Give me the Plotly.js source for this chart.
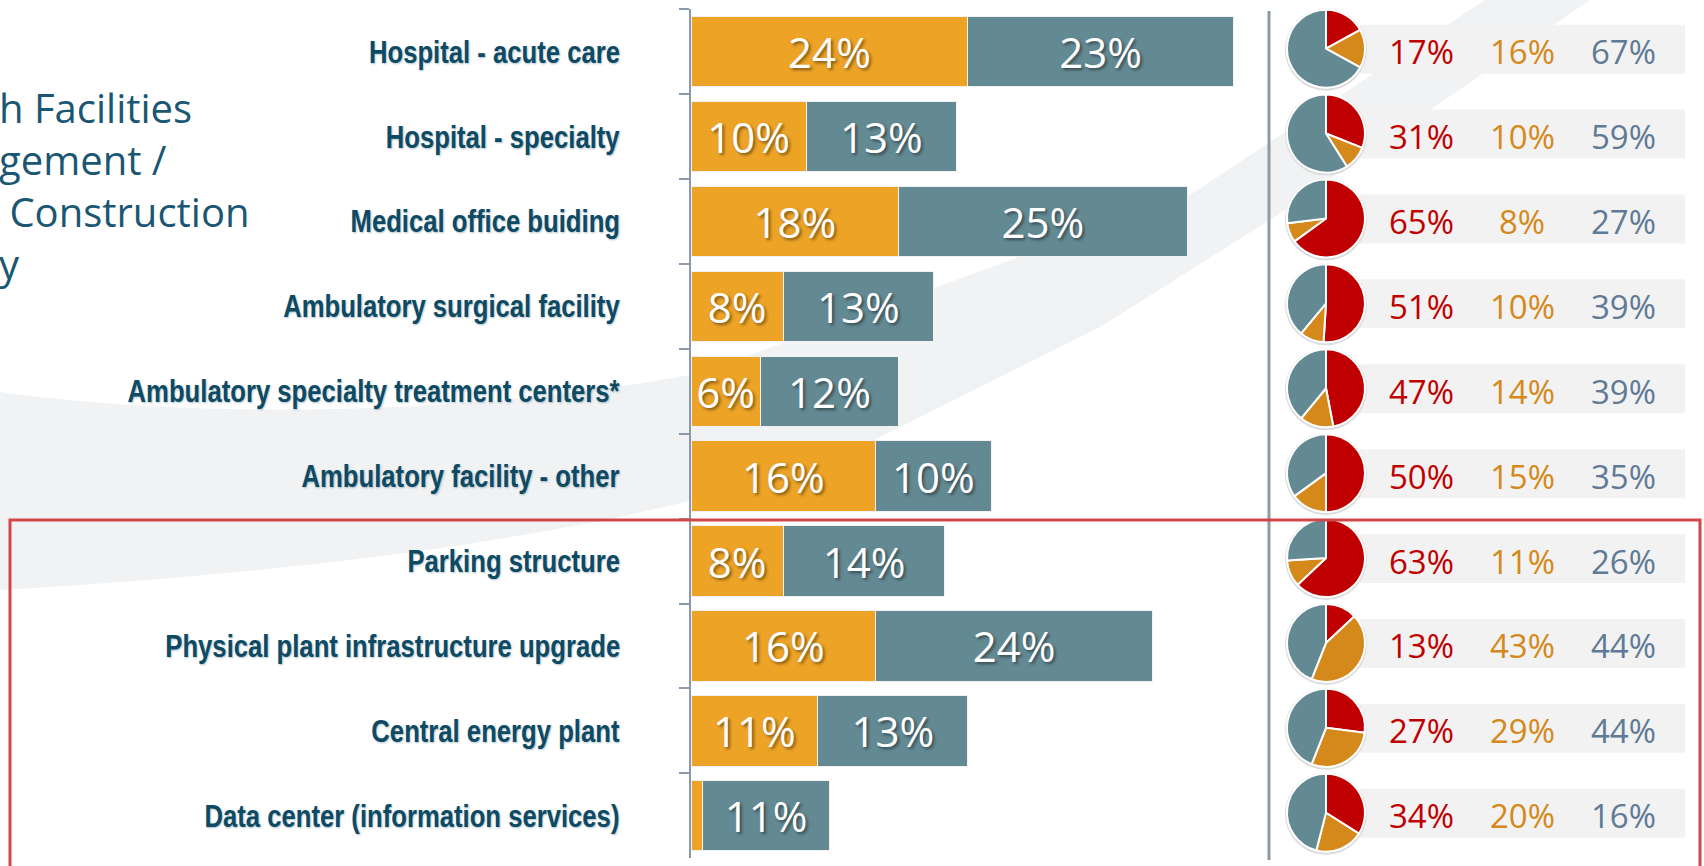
<!DOCTYPE html>
<html><head><meta charset="utf-8">
<script src="https://cdn.plot.ly/plotly-3.0.1.min.js"></script>
<style>html,body{margin:0;padding:0;background:#fff;overflow:hidden}#chart{width:1704px;height:866px}</style>
</head><body><div id="chart"></div>
<script>
// ---- data ----
const categories = ["Hospital - acute care","Hospital - specialty","Medical office buiding","Ambulatory surgical facility","Ambulatory specialty treatment centers*","Ambulatory facility - other","Parking structure","Physical plant infrastructure upgrade","Central energy plant","Data center (information services)"];
const barOrange = [24,10,18,8,6,16,8,16,11,1];
const barTeal   = [23,13,25,13,12,10,14,24,13,11];
const pieRed    = [17,31,65,51,47,50,63,13,27,34];
const pieOrange = [16,10,8,10,14,15,11,43,29,20];
const pieTeal   = [67,59,27,39,39,35,26,44,44,46];
const tealLabels = ["67%","59%","27%","39%","39%","35%","26%","44%","44%","16%"];
const titleLines = ["h Facilities","gement /","\u00a0Construction","y"];

// ---- geometry helpers ----
const W = 1704, H = 866;
const px = v => v / W;
const py = v => 1 - v / H;
const rowTop = 9.2, rowH = 84.9;
const rowCenter = i => rowTop + rowH * (i + 0.5);

const C = {
  barOrange:'#eca326', barTeal:'#638993',
  pieRed:'#c00000', pieOrange:'#d4891a', pieTeal:'#638993',
  txtRed:'#c00000', txtOrange:'#d4891a', txtTeal:'#607a96',
  label:'#0e4a63', axis:'#8c99a6'
};

const barFont = {family:"Open Sans, Noto Sans, sans-serif", size:42, color:'#ffffff', shadow:'2px 2px 3px rgba(0,0,0,0.45)'};

const traces = [
  {type:'bar', orientation:'h', y:categories, x:barOrange, name:'a',
   marker:{color:C.barOrange, line:{color:'#f2f2f2', width:1}},
   text: barOrange.map(v => v >= 3 ? v + '%' : ''), textposition:'inside', insidetextanchor:'middle',
   constraintext:'none', textfont:barFont, hoverinfo:'skip', showlegend:false},
  {type:'bar', orientation:'h', y:categories, x:barTeal, name:'b',
   marker:{color:C.barTeal, line:{color:'#f2f2f2', width:1}},
   text: barTeal.map(v => v + '%'), textposition:'inside', insidetextanchor:'middle',
   constraintext:'none', textfont:barFont, hoverinfo:'skip', showlegend:false}
];

const pieCx = 1326, pieR = 39, pieShift = -3;
categories.forEach((c, i) => {
  const cy = rowCenter(i) + pieShift;
  traces.push({
    type:'pie', values:[pieRed[i], pieOrange[i], pieTeal[i]],
    marker:{colors:[C.pieRed, C.pieOrange, C.pieTeal], line:{color:'#ffffff', width:2}},
    sort:false, direction:'clockwise', rotation:0, textinfo:'none', hoverinfo:'skip', showlegend:false,
    domain:{x:[px(pieCx - pieR), px(pieCx + pieR)], y:[py(cy + pieR), py(cy - pieR)]}
  });
});

// ---- shapes ----
const P = (x, y) => `${px(x).toFixed(5)},${py(y).toFixed(5)}`;
const swoosh = `M${P(0,392)} C${P(200,420)} ${P(480,415)} ${P(700,373)} L${P(1190,195)} L${P(1485,0)} L${P(1590,0)} L${P(1270,220)} L${P(1100,327)} L${P(900,427)} C${P(780,490)} ${P(520,560)} ${P(0,590)} Z`;
const shapes = [
  {type:'path', path:swoosh, xref:'paper', yref:'paper', fillcolor:'#f1f2f4', line:{width:0}, layer:'below'}
];
categories.forEach((c, i) => {
  const cy = rowCenter(i);
  shapes.push({type:'rect', xref:'paper', yref:'paper', x0:px(1360), x1:px(1685), y0:py(cy + 22), y1:py(cy - 27),
    fillcolor:'#f2f2f2', line:{width:0}, layer:'below'});
  const pc = cy + pieShift;
  shapes.push({type:'circle', xref:'paper', yref:'paper', x0:px(pieCx - pieR - 2), x1:px(pieCx + pieR + 2),
    y0:py(pc + pieR + 3), y1:py(pc - pieR - 1), fillcolor:'#dcdcdc', line:{width:0}, layer:'below'});
});
shapes.push({type:'line', xref:'paper', yref:'paper', x0:px(1269), x1:px(1269), y0:py(11), y1:py(860),
  line:{color:C.axis, width:3}, layer:'below'});
shapes.push({type:'rect', xref:'paper', yref:'paper', x0:px(10), x1:px(1700), y0:py(520), y1:py(870),
  line:{color:'#d0474a', width:3}, fillcolor:'rgba(0,0,0,0)', layer:'above'});

// ---- annotations ----
const annotations = [];
const labelIdx = [];
annotations.push({xref:'paper', yref:'paper', x:px(-3), y:py(186), xanchor:'left', yanchor:'middle', align:'left',
  text: titleLines.join('<br>'), showarrow:false,
  font:{family:"Open Sans, Noto Sans, sans-serif", size:40, color:'#1b5673'}});
categories.forEach((c, i) => {
  labelIdx.push(annotations.length);
  annotations.push({xref:'paper', yref:'y', x:px(622), y:c, xanchor:'right', yanchor:'middle', showarrow:false,
    text:c, font:{family:"Liberation Sans, Arial, sans-serif", size:32, color:C.label, weight:700, shadow:'1px 1px 2px rgba(14,74,99,0.35)'}});
  const f = (col) => ({family:"Open Sans, Noto Sans, sans-serif", size:33, color:col});
  annotations.push({xref:'paper', yref:'y', x:px(1421), y:c, xanchor:'center', yanchor:'middle', showarrow:false, text:pieRed[i] + '%', font:f(C.txtRed)});
  annotations.push({xref:'paper', yref:'y', x:px(1522), y:c, xanchor:'center', yanchor:'middle', showarrow:false, text:pieOrange[i] + '%', font:f(C.txtOrange)});
  annotations.push({xref:'paper', yref:'y', x:px(1623), y:c, xanchor:'center', yanchor:'middle', showarrow:false, text:tealLabels[i], font:f(C.txtTeal)});
});

const layout = {
  width:W, height:H, margin:{l:0, r:0, t:0, b:0, pad:0},
  paper_bgcolor:'#ffffff', plot_bgcolor:'rgba(0,0,0,0)',
  barmode:'stack', bargap:0.17,
  xaxis:{domain:[px(691), px(1268)], range:[0, 50], showgrid:false, zeroline:false, showticklabels:false, ticks:'', showline:false, fixedrange:true},
  yaxis:{domain:[py(rowTop + 10*rowH), py(rowTop)], type:'category', categoryorder:'array', categoryarray:categories,
    autorange:'reversed', showgrid:false, zeroline:false, showticklabels:false,
    showline:true, linecolor:C.axis, linewidth:2, ticks:'outside', tickson:'boundaries', ticklen:10, tickwidth:2, tickcolor:C.axis},
  shapes, annotations, showlegend:false
};

Plotly.newPlot('chart', traces, layout, {staticPlot:true, displayModeBar:false}).then(gd => {
  // condense category labels horizontally (narrow typeface look), anchored at their right edge
  const getText = idx => gd.querySelector(`.annotation[data-index="${idx}"] text.annotation-text`);
  const probe = getText(labelIdx[7]);
  if (!probe) return;
  const sx = 455 / probe.getBBox().width;
  labelIdx.forEach(idx => {
    const t = getText(idx);
    if (!t) return;
    const b = t.getBBox();
    const xr = b.x + b.width;
    const prev = t.getAttribute('transform') || '';
    t.setAttribute('transform', `${prev} translate(${xr},0) scale(${sx},1) translate(${-xr},0)`);
  });
});
</script>
</body></html>
